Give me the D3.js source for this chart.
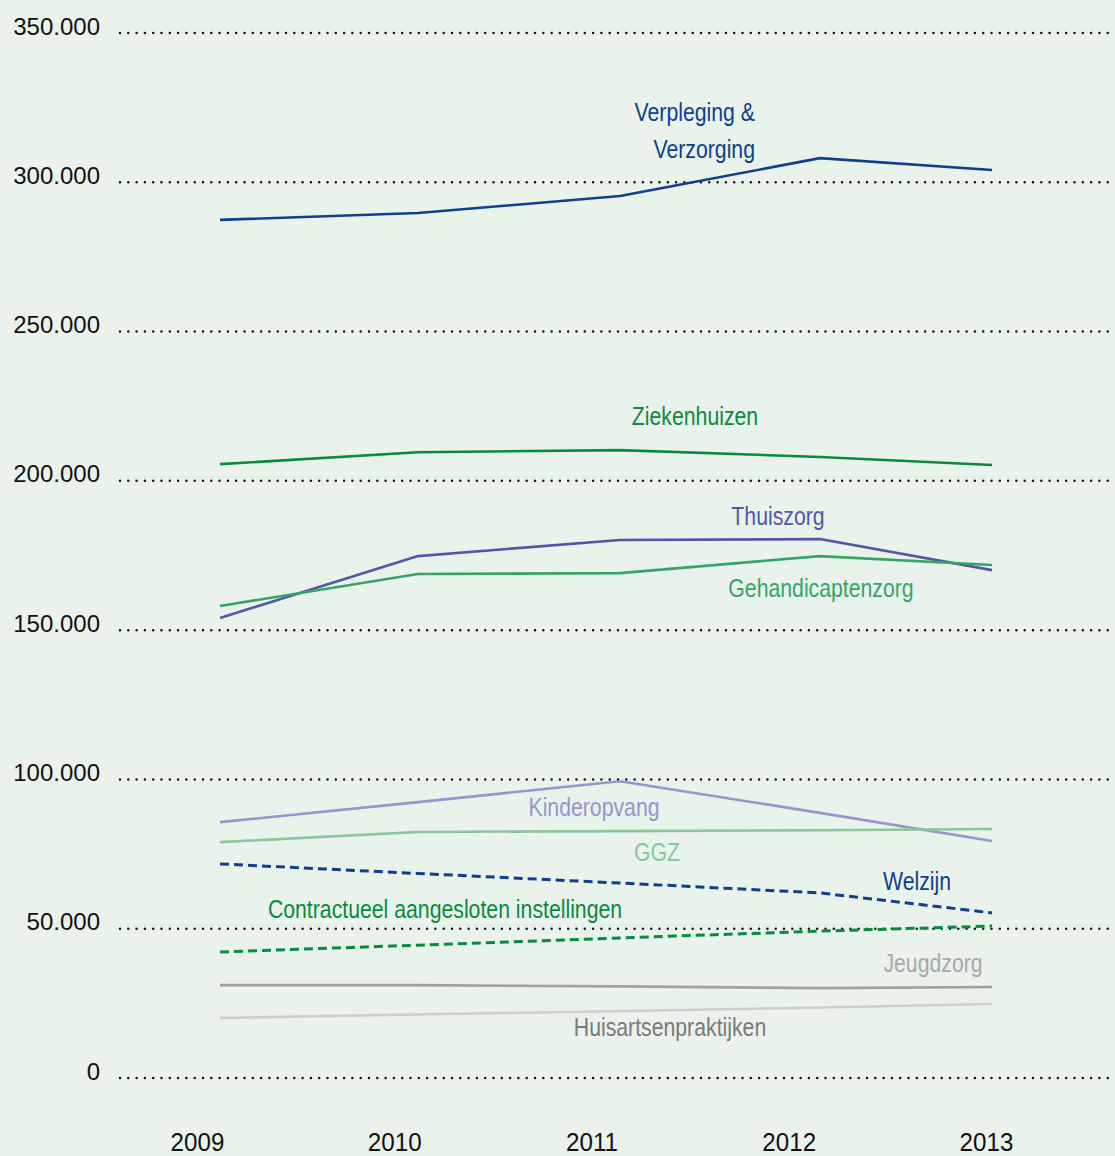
<!DOCTYPE html>
<html>
<head>
<meta charset="utf-8">
<script src="https://cdn.jsdelivr.net/npm/d3@7"></script>
<style>
  html, body { margin: 0; padding: 0; background: #e9f3ec; }
  svg { display: block; }
  .tick-y text { font-family: "Liberation Sans", Arial, sans-serif; font-size: 24px; fill: #111; }
  .tick-x text { font-family: "Liberation Sans", Arial, sans-serif; font-size: 26px; fill: #111; }
  .lbl { font-family: "Liberation Sans", Arial, sans-serif; font-size: 25px; }
</style>
</head>
<body>
<svg id="chart" width="1115" height="1156"></svg>
<script>
// Werkgelegenheid per branche, 2009-2013
const years = [2009, 2010, 2011, 2012, 2013];
const yTicks = [0, 50000, 100000, 150000, 200000, 250000, 300000, 350000];

const verplegingVerzorging = [287400, 289700, 295400, 308100, 304100];
const ziekenhuizen        = [205600, 209600, 210300, 208000, 205300];
const thuiszorg           = [154100, 174800, 180200, 180500, 170100];
const gehandicaptenzorg   = [158100, 168800, 169100, 174800, 171800];
const kinderopvang        = [85700, 92400, 99400, 88800, 79400];
const ggz                 = [79000, 82400, 82700, 83000, 83400];
const welzijn             = [71700, 68500, 65300, 62000, 55300];
const contractueel        = [42200, 44500, 46900, 49200, 50900];
const jeugdzorg           = [31100, 31100, 30700, 30100, 30500];
const huisartsen          = [20100, 21300, 22400, 23600, 24800];

const series = [
  { name: ["Verpleging &", "Verzorging"], values: verplegingVerzorging, color: "#0f3f8e", dash: null,
    lx: 755, ly: 121, anchor: "end" },
  { name: ["Ziekenhuizen"], values: ziekenhuizen, color: "#0a8a3f", dash: null, lx: 695, ly: 425, anchor: "middle" },
  { name: ["Thuiszorg"], values: thuiszorg, color: "#5257a6", dash: null, lx: 778, ly: 525, anchor: "middle" },
  { name: ["Gehandicaptenzorg"], values: gehandicaptenzorg, color: "#36a466", dash: null, lx: 821, ly: 597, anchor: "middle" },
  { name: ["Kinderopvang"], values: kinderopvang, color: "#9596cf", dash: null, lx: 594, ly: 816, anchor: "middle" },
  { name: ["GGZ"], values: ggz, color: "#8ac79a", dash: null, lx: 657, ly: 861, anchor: "middle" },
  { name: ["Welzijn"], values: welzijn, color: "#0f3f8e", dash: "9 5", lx: 917, ly: 890, anchor: "middle" },
  { name: ["Contractueel aangesloten instellingen"], values: contractueel, color: "#0a8a3f", dash: "9 5",
    lx: 445, ly: 918, anchor: "middle" },
  { name: ["Jeugdzorg"], values: jeugdzorg, color: "#a0a0a0", dash: null, lx: 933, ly: 972, anchor: "middle",
    labelColor: "#a8a8a8" },
  { name: ["Huisartsenpraktijken"], values: huisartsen, color: "#cfcfcf", dash: null, lx: 670, ly: 1036, anchor: "middle",
    labelColor: "#7a7a7a" }
];

const svg = d3.select("#chart");
const W = 1115;

const y = d3.scaleLinear().domain([0, 350000]).range([1078, 33]);
// data points sit on the year positions of the plot area
const x = d3.scaleLinear().domain(years).range([220, 418, 620, 820, 992]);
// year labels under the plot
const xLabel = d3.scaleLinear().domain([2009, 2013]).range([197, 986]);

const nl = d3.formatLocale({ decimal: ",", thousands: ".", grouping: [3], currency: ["€ ", ""] });
const fmt = nl.format(",");

// dotted gridlines
svg.append("g")
  .selectAll("line")
  .data(yTicks)
  .join("line")
  .attr("x1", 120).attr("x2", W)
  .attr("y1", d => y(d)).attr("y2", d => y(d))
  .attr("stroke", "#111")
  .attr("stroke-width", 2.5)
  .attr("stroke-linecap", "round")
  .attr("stroke-dasharray", "0 8.3");

// y axis labels
const gy = svg.append("g")
  .attr("class", "tick-y")
  .attr("transform", "translate(100,0)")
  .call(d3.axisLeft(y).tickValues(yTicks).tickFormat(fmt).tickSize(0).tickPadding(0));
gy.select(".domain").remove();
gy.selectAll("text").attr("dy", 0).attr("y", 1);

// x axis labels, set in a condensed cut
const gx = svg.append("g")
  .attr("class", "tick-x")
  .attr("transform", "translate(0,1151)")
  .call(d3.axisBottom(xLabel).tickValues(years).tickFormat(d3.format("d")).tickSize(0).tickPadding(0));
gx.select(".domain").remove();
gx.selectAll("text").attr("dy", 0).attr("y", 0).attr("transform", "scale(0.93,1)");

// series lines
const line = d3.line().x((d, i) => x(years[i])).y(d => y(d));

svg.append("g")
  .selectAll("path")
  .data(series)
  .join("path")
  .attr("d", d => line(d.values))
  .attr("fill", "none")
  .attr("stroke", d => d.color)
  .attr("stroke-width", d => d.dash ? 3 : 2.6)
  .attr("stroke-dasharray", d => d.dash)
  .attr("stroke-linejoin", "round");

// series labels, horizontally condensed
const lbl = svg.append("g")
  .selectAll("text")
  .data(series)
  .join("text")
  .attr("class", "lbl")
  .attr("transform", d => `translate(${d.lx},${d.ly}) scale(0.85,1)`)
  .attr("text-anchor", d => d.anchor)
  .attr("fill", d => d.labelColor || d.color);

lbl.selectAll("tspan")
  .data(d => d.name.map((t, i) => ({ t, i })))
  .join("tspan")
  .attr("x", 0)
  .attr("dy", d => d.i === 0 ? 0 : 37)
  .text(d => d.t);
</script>
</body>
</html>
